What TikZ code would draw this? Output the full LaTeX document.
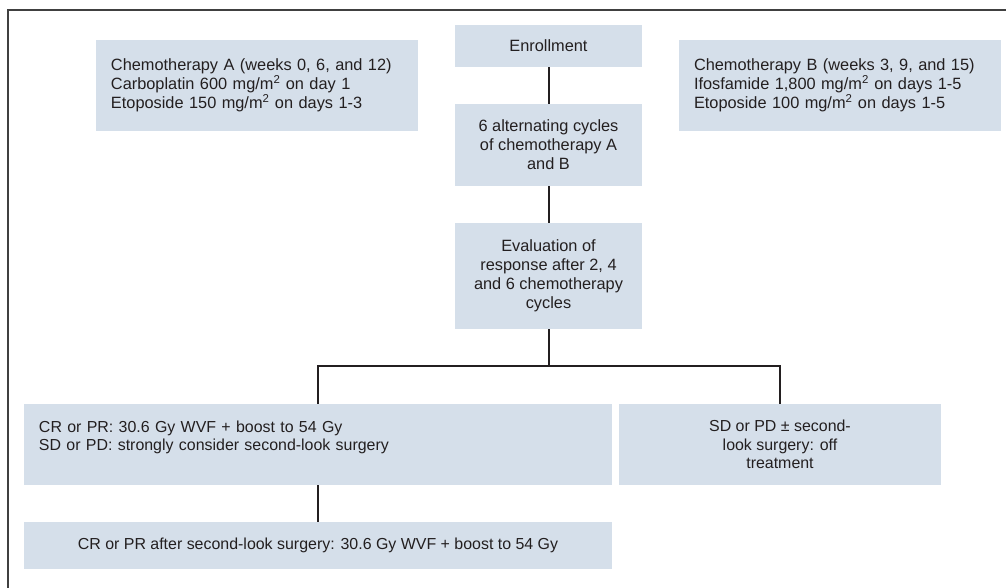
\documentclass[tikz,border=0pt]{standalone}
\usepackage{fontspec}
\setmainfont{Liberation Sans}
\definecolor{boxblue}{RGB}{213,223,234}
\definecolor{inkgray}{RGB}{35,31,32}

\begin{document}
\begin{tikzpicture}[x=1bp, y=-1bp,
  box/.style={fill=boxblue, text=inkgray, inner xsep=15bp, inner ysep=0pt, font=\fontsize{16.4}{19}\selectfont},
  lowbox/.style={box, font=\fontsize{16}{18.3}\selectfont},
  link/.style={line width=2bp, inkgray}]

\useasboundingbox (0,0) rectangle (1006,588);

%Outer frame
\draw [line width=1.6bp, black!75] (1006,10) -- (8,10) -- (8,588);

%Chemotherapy A box
\node [box, text width=292bp, minimum height=91bp, align=left] (chemoA) at (257,85.5)
  {Chemotherapy A (weeks 0, 6, and 12)\\Carboplatin 600 mg/m\textsuperscript{2} on day 1\\Etoposide 150 mg/m\textsuperscript{2} on days 1-3};

%Chemotherapy B box
\node [box, text width=292bp, minimum height=91bp, align=left] (chemoB) at (840,85.5)
  {Chemotherapy B (weeks 3, 9, and 15)\\Ifosfamide 1,800 mg/m\textsuperscript{2} on days 1-5\\Etoposide 100 mg/m\textsuperscript{2} on days 1-5};

%Center column
\node [box, minimum width=187bp, minimum height=42bp] (enroll) at (548.5,46) {Enrollment};
\node [box, minimum width=187bp, minimum height=82bp, align=center] (cycles) at (548.5,145)
  {6 alternating cycles\\of chemotherapy A\\and B};
\node [box, minimum width=187bp, minimum height=106bp, align=center] (eval) at (548.5,276)
  {Evaluation of\\response after 2, 4\\and 6 chemotherapy\\cycles};

%Outcome boxes
\node [lowbox, text width=558bp, minimum height=81bp, align=left] (cr) at (318,444.5)
  {CR or PR: 30.6 Gy WVF + boost to 54 Gy\\SD or PD: strongly consider second-look surgery\\ \mbox{}};
\node [lowbox, minimum width=322bp, minimum height=81bp, align=center] (sd) at (780,444.5)
  {SD or PD ± second-\\look surgery: off\\treatment};
\node [lowbox, minimum width=588bp, minimum height=47bp] (final) at (318,545.5)
  {CR or PR after second-look surgery: 30.6 Gy WVF + boost to 54 Gy};

%Connectors
\coordinate (split) at (548.5,366);
\draw [link] (enroll) -- (cycles);
\draw [link] (cycles) -- (eval);
\draw [link] (eval) -- (split);
\draw [link] (cr.north) |- (split) -| (sd.north);
\draw [link] (cr) -- (final);

\end{tikzpicture}
\end{document}
